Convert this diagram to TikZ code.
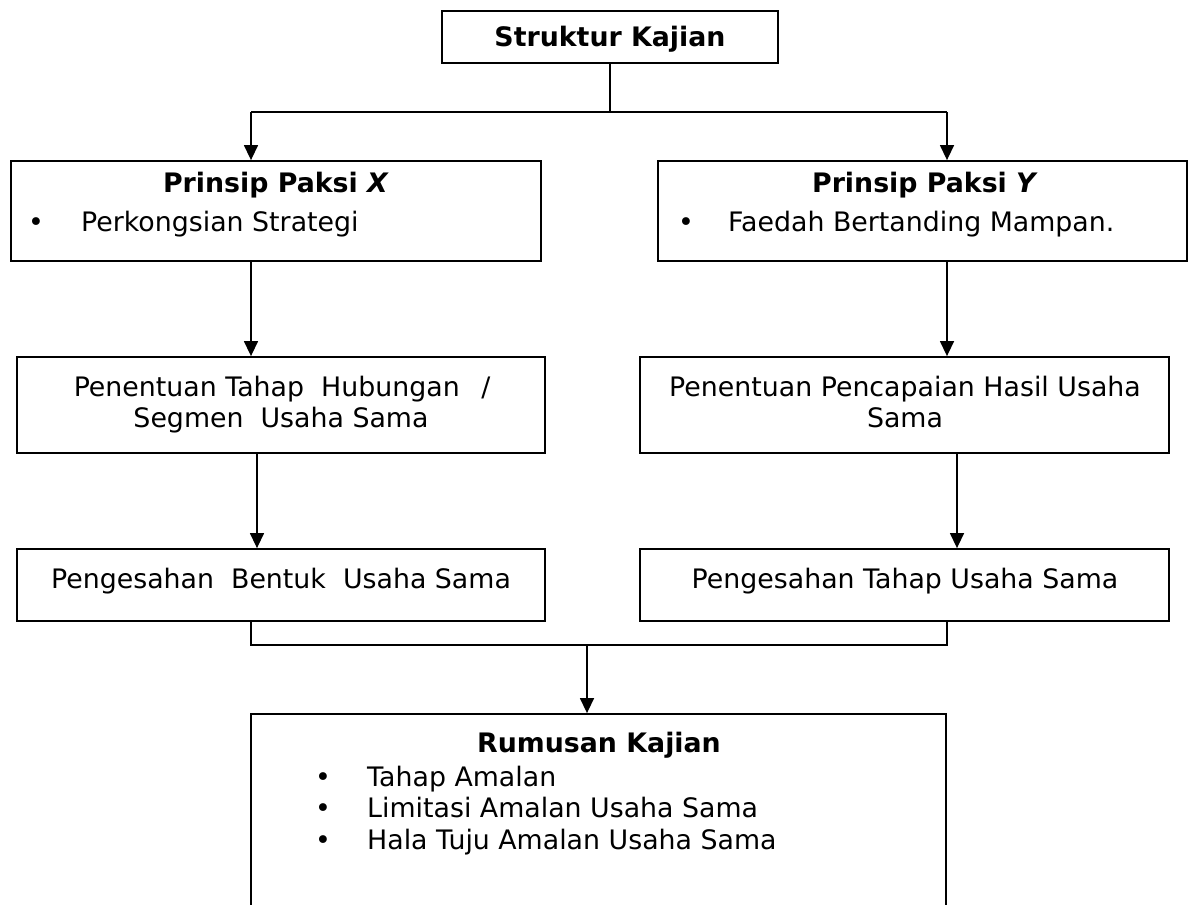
\documentclass[tikz,border=0pt]{standalone}
\usepackage{fontspec}
\setmainfont{DejaVu Sans}
\usetikzlibrary{arrows.meta}
\begin{document}
\begin{tikzpicture}[x=1pt,y=-1pt,
  box/.style={draw=black,line width=1.8pt,rectangle,inner sep=0pt},
  conn/.style={draw=black,line width=1.4pt},
  arr/.style={conn,-{Triangle[length=15pt,width=14pt]}},
  txt/.style={inner sep=0pt,anchor=base,font=\fontsize{26.8}{31.5}\selectfont},
  ltxt/.style={txt,anchor=base west},
  btxt/.style={txt,font=\fontsize{26.8}{31.5}\selectfont\bfseries}]
\useasboundingbox (0,0) rectangle (1189,905);
% boxes
\node[box,minimum width=336pt,minimum height=52pt] (top) at (610,37) {};
\node[box,minimum width=530pt,minimum height=100pt] (bx) at (276,211) {};
\node[box,minimum width=529pt,minimum height=100pt] (by) at (922.5,211) {};
\node[box,minimum width=528pt,minimum height=96pt] (ml) at (281,405) {};
\node[box,minimum width=529pt,minimum height=96pt] (mr) at (904.5,405) {};
\node[box,minimum width=528pt,minimum height=72pt] (bl) at (281,585) {};
\node[box,minimum width=529pt,minimum height=72pt] (br) at (904.5,585) {};
\node[box,minimum width=695pt,minimum height=216pt] (rk) at (598.5,822) {};
% texts
\node[btxt] (ttop) at (610,46) {Struktur Kajian};
\node[btxt] (tbx) at (276,192) {Prinsip Paksi \textit{X}};
\node[ltxt] (bulx) at (28,231) {•};
\node[ltxt] (tbx2) at (81,231) {Perkongsian Strategi};
\node[btxt] (tby) at (925,192) {Prinsip Paksi \textit{Y}};
\node[ltxt] (buly) at (678,231) {•};
\node[ltxt] (tby2) at (728,231) {Faedah Bertanding Mampan.};
\node[txt] (tml1) at (282,396) {Penentuan Tahap\ \ Hubungan\ \ \,/};
\node[txt] (tml2) at (281,427) {Segmen\ \ Usaha Sama};
\node[txt] (tmr1) at (905,396) {Penentuan Pencapaian Hasil Usaha};
\node[txt] (tmr2) at (905,427) {Sama};
\node[txt] (tbl) at (281,588) {Pengesahan\ \ Bentuk\ \ Usaha Sama};
\node[txt] (tbr) at (905,588) {Pengesahan Tahap Usaha Sama};
\node[btxt] (trk) at (599,752) {Rumusan Kajian};
\node[ltxt] (b1) at (315,786) {•};
\node[ltxt] (r1) at (367,786) {Tahap Amalan};
\node[ltxt] (b2) at (315,817) {•};
\node[ltxt] (r2) at (367,817) {Limitasi Amalan Usaha Sama};
\node[ltxt] (b3) at (315,849) {•};
\node[ltxt] (r3) at (367,849) {Hala Tuju Amalan Usaha Sama};
% connectors
\coordinate (jL) at (251,112);
\coordinate (jR) at (947,112);
\coordinate (kL) at (257,0);
\coordinate (kR) at (957,0);
\coordinate (mL) at (251,645);
\coordinate (mR) at (947,645);
\coordinate (mC) at (587,645);
\draw[conn] (top.south) -- (top.south |- jL);
\draw[conn] (jL) -- (jR);
\draw[arr] (jL) -- (jL |- bx.north);
\draw[arr] (jR) -- (jR |- by.north);
\draw[arr] (bx.south -| jL) -- (ml.north -| jL);
\draw[arr] (by.south -| jR) -- (mr.north -| jR);
\draw[arr] (ml.south -| kL) -- (bl.north -| kL);
\draw[arr] (mr.south -| kR) -- (br.north -| kR);
\draw[conn] (bl.south -| mL) -- (mL) -- (mR) -- (br.south -| mR);
\draw[arr] (mC) -- (mC |- rk.north);
\end{tikzpicture}
\end{document}
